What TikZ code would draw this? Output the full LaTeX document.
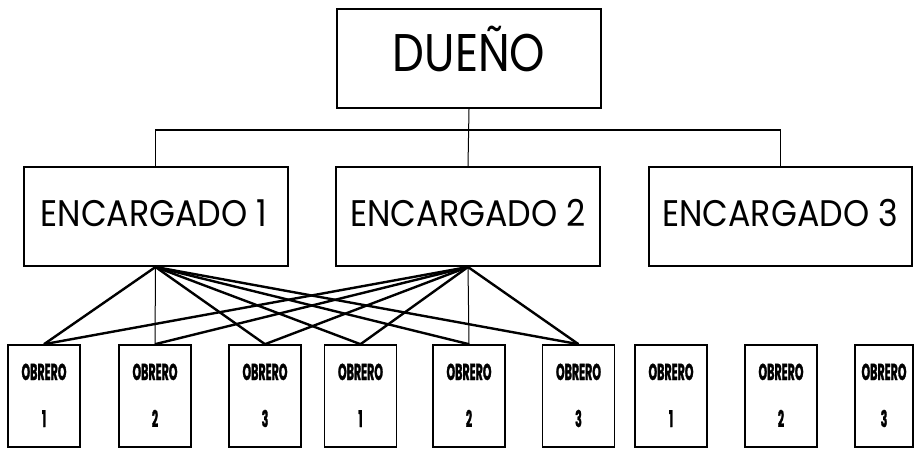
\documentclass[tikz,border=0pt]{standalone}
\usepackage{fontspec}
\newfontfamily\fduen{Poppins}[FakeStretch=0.85]
\newfontfamily\fenc{Poppins}[FakeStretch=0.9]
\newfontfamily\fob{Poppins}[FakeStretch=0.48, BoldFeatures={FakeBold=1.2}]
\begin{document}
\begin{tikzpicture}[x=1pt,y=-1pt,
  bigbox/.style={draw, line width=2pt, minimum width=264pt, minimum height=99pt, inner sep=0pt},
  obbox/.style={draw, line width=1.6pt, minimum width=72pt, minimum height=102pt, inner sep=0pt},
  thick link/.style={line width=2.4pt},
  thin link/.style={line width=1pt},
  lbl/.style={anchor=base, inner sep=0pt},
  obtext/.style={lbl, font=\fob\bfseries\fontsize{23}{23}\selectfont}
]
\useasboundingbox (0,0) rectangle (915,449);
% boxes
\node[bigbox] (d) at (469,58.5) {};
\node[bigbox] (e1) at (155.5,216.5) {};
\node[bigbox] (e2) at (468,216.5) {};
\node[bigbox, minimum width=263pt] (e3) at (780.5,216.5) {};
\node[lbl, font=\fduen\fontsize{53}{53}\selectfont] (dt) at (469,72) {DUEÑO};
\node[lbl, font=\fenc\fontsize{37}{37}\selectfont] (e1t) at (154,226) {ENCARGADO 1};
\node[lbl, font=\fenc\fontsize{37}{37}\selectfont] (e2t) at (468,226) {ENCARGADO 2};
\node[lbl, font=\fenc\fontsize{37}{37}\selectfont] (e3t) at (780,226) {ENCARGADO 3};
% obreros
\foreach \i/\x/\n in {1/44/1,2/155/2,3/265/3,4/360.5/1,5/469/2,6/578.5/3,7/671/1,8/781/2}{
  \node[obbox] (o\i) at (\x,396) {};
  \node[obtext] (o\i a) at (\x,380) {OBRERO};
  \node[obtext] (o\i b) at (\x,427) {\n};
}
\node[obbox, minimum width=58pt] (o9) at (884,396) {};
\node[obtext] (o9a) at (884,380) {OBRERO};
\node[obtext] (o9b) at (884,427) {3};
% top connectors
\coordinate (bar) at (469,130);
\draw[thin link] (d.south) -- (e2.north);
\draw[line width=1.8pt] (e1.north) |- (bar) -| (e3.north);
% worker connectors
\foreach \j in {1,3,4,5,6}{\draw[thick link] (e1.south) -- (o\j.north);}
\draw[thin link] (e1.south) -- (o2.north);
\foreach \j in {1,2,3,4,6}{\draw[thick link] (e2.south) -- (o\j.north);}
\draw[thin link] (e2.south) -- (o5.north);
\end{tikzpicture}
\end{document}
